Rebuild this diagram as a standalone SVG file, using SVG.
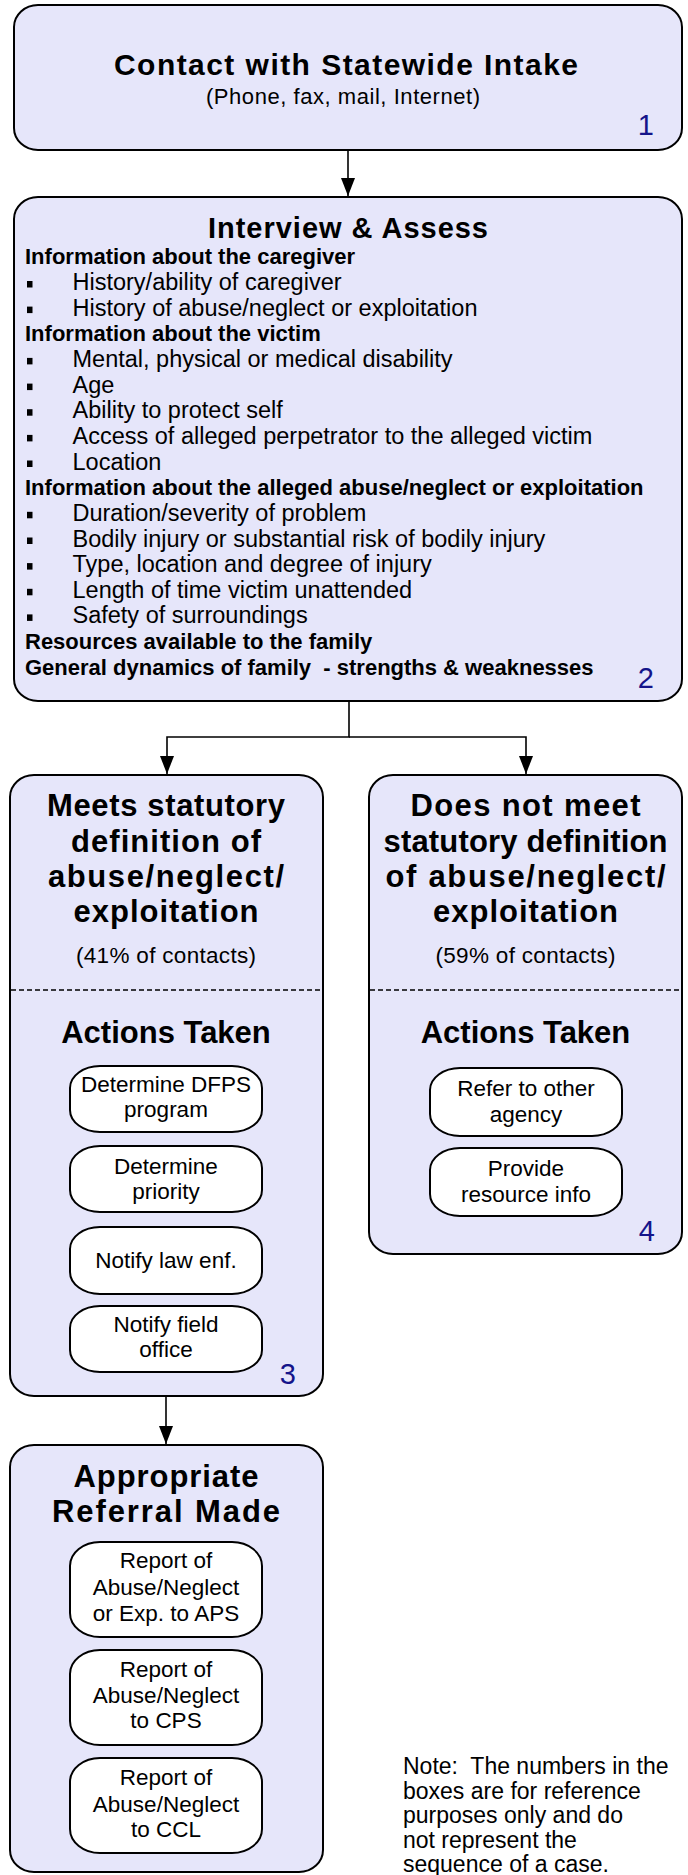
<svg xmlns="http://www.w3.org/2000/svg" width="688" height="1875" viewBox="0 0 688 1875">
<defs>
<style>
.box{fill:#E6E6FA;stroke:#000;stroke-width:2}
.pill{fill:#fff;stroke:#000;stroke-width:2}
.t{font-family:"Liberation Sans",Arial,sans-serif;fill:#000}
.b{font-weight:bold}
.c{text-anchor:middle}
.num{font-family:"Liberation Sans",Arial,sans-serif;font-size:29px;fill:#14148a;text-anchor:end}
.body{font-size:23.5px}
.head{font-size:22px;font-weight:bold}
.pt{font-size:22.5px;text-anchor:middle}
.ttl{font-size:31px;font-weight:bold;text-anchor:middle}
.conn{fill:none;stroke:#000;stroke-width:1.6}
.dash{stroke:#000;stroke-width:1.5;stroke-dasharray:5 3}
</style>
<marker id="arr" viewBox="0 0 18 14" refX="18" refY="7" markerWidth="18" markerHeight="14" markerUnits="userSpaceOnUse" orient="auto">
<path d="M0,0 L18,7 L0,14 Z" fill="#000"/>
</marker>
</defs>

<g id="connectors">
<line class="conn" x1="348" y1="151" x2="348" y2="196" marker-end="url(#arr)"/>
<polyline class="conn" points="349,702 349,737 167,737 167,774" marker-end="url(#arr)"/>
<polyline class="conn" points="349,737 526,737 526,774" marker-end="url(#arr)"/>
<line class="conn" x1="166" y1="1397" x2="166" y2="1444" marker-end="url(#arr)"/>
</g>

<g id="node1">
<rect class="box" x="14" y="5" width="668" height="145" rx="24" ry="22"/>
<text class="t b c" x="346" y="75" font-size="30" textLength="464" lengthAdjust="spacing">Contact with Statewide Intake</text>
<text class="t c" x="343" y="104" font-size="22" textLength="274" lengthAdjust="spacing">(Phone, fax, mail, Internet)</text>
<text class="num" x="654" y="135">1</text>
</g>

<g id="node2">
<rect class="box" x="14" y="197" width="668" height="504" rx="24" ry="22"/>
<text class="t b c" x="348" y="238" font-size="29" textLength="280" lengthAdjust="spacing">Interview &amp; Assess</text>
<g class="t">
<text class="head" x="25" y="264.3">Information about the caregiver</text>
<text class="body" x="72.5" y="290">History/ability of caregiver</text>
<text class="body" x="72.5" y="315.6">History of abuse/neglect or exploitation</text>
<text class="head" x="25" y="341.3">Information about the victim</text>
<text class="body" x="72.5" y="366.9">Mental, physical or medical disability</text>
<text class="body" x="72.5" y="392.6">Age</text>
<text class="body" x="72.5" y="418.2">Ability to protect self</text>
<text class="body" x="72.5" y="443.9">Access of alleged perpetrator to the alleged victim</text>
<text class="body" x="72.5" y="469.5">Location</text>
<text class="head" x="25" y="495.2">Information about the alleged abuse/neglect or exploitation</text>
<text class="body" x="72.5" y="520.8">Duration/severity of problem</text>
<text class="body" x="72.5" y="546.5">Bodily injury or substantial risk of bodily injury</text>
<text class="body" x="72.5" y="572.1">Type, location and degree of injury</text>
<text class="body" x="72.5" y="597.8">Length of time victim unattended</text>
<text class="body" x="72.5" y="623.4">Safety of surroundings</text>
<text class="head" x="25" y="649.1">Resources available to the family</text>
<text class="head" x="25" y="674.7" style="white-space:pre">General dynamics of family  - strengths &amp; weaknesses</text>
</g>
<g fill="#000">
<rect x="27" y="281" width="5.5" height="6.5"/>
<rect x="27" y="306.6" width="5.5" height="6.5"/>
<rect x="27" y="357.9" width="5.5" height="6.5"/>
<rect x="27" y="383.6" width="5.5" height="6.5"/>
<rect x="27" y="409.2" width="5.5" height="6.5"/>
<rect x="27" y="434.9" width="5.5" height="6.5"/>
<rect x="27" y="460.5" width="5.5" height="6.5"/>
<rect x="27" y="511.8" width="5.5" height="6.5"/>
<rect x="27" y="537.5" width="5.5" height="6.5"/>
<rect x="27" y="563.1" width="5.5" height="6.5"/>
<rect x="27" y="588.8" width="5.5" height="6.5"/>
<rect x="27" y="614.4" width="5.5" height="6.5"/>
</g>
<text class="num" x="654" y="688">2</text>
</g>

<g id="node3">
<rect class="box" x="10" y="775" width="313" height="621" rx="24" ry="22"/>
<text class="t ttl" x="166" y="816" textLength="238" lengthAdjust="spacing">Meets statutory</text>
<text class="t ttl" x="166" y="851.5" textLength="190" lengthAdjust="spacing">definition of</text>
<text class="t ttl" x="166" y="887" textLength="236" lengthAdjust="spacing">abuse/neglect/</text>
<text class="t ttl" x="166" y="922" textLength="185" lengthAdjust="spacing">exploitation</text>
<text class="t c" x="166" y="963" font-size="22.5" textLength="180" lengthAdjust="spacing">(41% of contacts)</text>
<line class="dash" x1="11" y1="990" x2="322" y2="990"/>
<text class="t ttl" x="166" y="1043">Actions Taken</text>
<g id="n3a"><rect class="pill" x="70" y="1066" width="192" height="66" rx="30" ry="22"/>
<text class="t pt" x="166" y="1092">Determine DFPS</text><text class="t pt" x="166" y="1117">program</text></g>
<g id="n3b"><rect class="pill" x="70" y="1146" width="192" height="66" rx="30" ry="22"/>
<text class="t pt" x="166" y="1174">Determine</text><text class="t pt" x="166" y="1199">priority</text></g>
<g id="n3c"><rect class="pill" x="70" y="1227" width="192" height="67" rx="30" ry="22"/>
<text class="t pt" x="166" y="1268">Notify law enf.</text></g>
<g id="n3d"><rect class="pill" x="70" y="1306" width="192" height="66" rx="30" ry="22"/>
<text class="t pt" x="166" y="1332">Notify field</text><text class="t pt" x="166" y="1357">office</text></g>
<text class="num" x="296" y="1384">3</text>
</g>

<g id="node4">
<rect class="box" x="369" y="775" width="313" height="479" rx="24" ry="22"/>
<text class="t ttl" x="525.5" y="816" textLength="230" lengthAdjust="spacing">Does not meet</text>
<text class="t ttl" x="525.5" y="851.5" textLength="284" lengthAdjust="spacing">statutory definition</text>
<text class="t ttl" x="525.5" y="887" textLength="280" lengthAdjust="spacing">of abuse/neglect/</text>
<text class="t ttl" x="525.5" y="922" textLength="185" lengthAdjust="spacing">exploitation</text>
<text class="t c" x="525.5" y="963" font-size="22.5" textLength="180" lengthAdjust="spacing">(59% of contacts)</text>
<line class="dash" x1="370" y1="990" x2="681" y2="990"/>
<text class="t ttl" x="525.5" y="1043">Actions Taken</text>
<g id="n4a"><rect class="pill" x="430" y="1068" width="192" height="68" rx="30" ry="22"/>
<text class="t pt" x="526" y="1096">Refer to other</text><text class="t pt" x="526" y="1122">agency</text></g>
<g id="n4b"><rect class="pill" x="430" y="1148" width="192" height="68" rx="30" ry="22"/>
<text class="t pt" x="526" y="1176">Provide</text><text class="t pt" x="526" y="1202">resource info</text></g>
<text class="num" x="655" y="1241">4</text>
</g>

<g id="node5">
<rect class="box" x="10" y="1445" width="313" height="427" rx="24" ry="22"/>
<text class="t ttl" x="166" y="1486.5" textLength="185" lengthAdjust="spacing">Appropriate</text>
<text class="t ttl" x="166" y="1521.5" textLength="228" lengthAdjust="spacing">Referral Made</text>
<g id="n5a"><rect class="pill" x="70" y="1542" width="192" height="95" rx="30" ry="24"/>
<text class="t pt" x="166" y="1568">Report of</text><text class="t pt" x="166" y="1595">Abuse/Neglect</text><text class="t pt" x="166" y="1621">or Exp. to APS</text></g>
<g id="n5b"><rect class="pill" x="70" y="1650" width="192" height="95" rx="30" ry="24"/>
<text class="t pt" x="166" y="1677">Report of</text><text class="t pt" x="166" y="1703">Abuse/Neglect</text><text class="t pt" x="166" y="1728">to CPS</text></g>
<g id="n5c"><rect class="pill" x="70" y="1758" width="192" height="95" rx="30" ry="24"/>
<text class="t pt" x="166" y="1785">Report of</text><text class="t pt" x="166" y="1812">Abuse/Neglect</text><text class="t pt" x="166" y="1837">to CCL</text></g>
</g>

<g id="note" class="t" font-size="23">
<text x="403" y="1774" style="white-space:pre">Note:  The numbers in the</text>
<text x="403" y="1798.5">boxes are for reference</text>
<text x="403" y="1823">purposes only and do</text>
<text x="403" y="1847.5">not represent the</text>
<text x="403" y="1872">sequence of a case.</text>
</g>
</svg>
